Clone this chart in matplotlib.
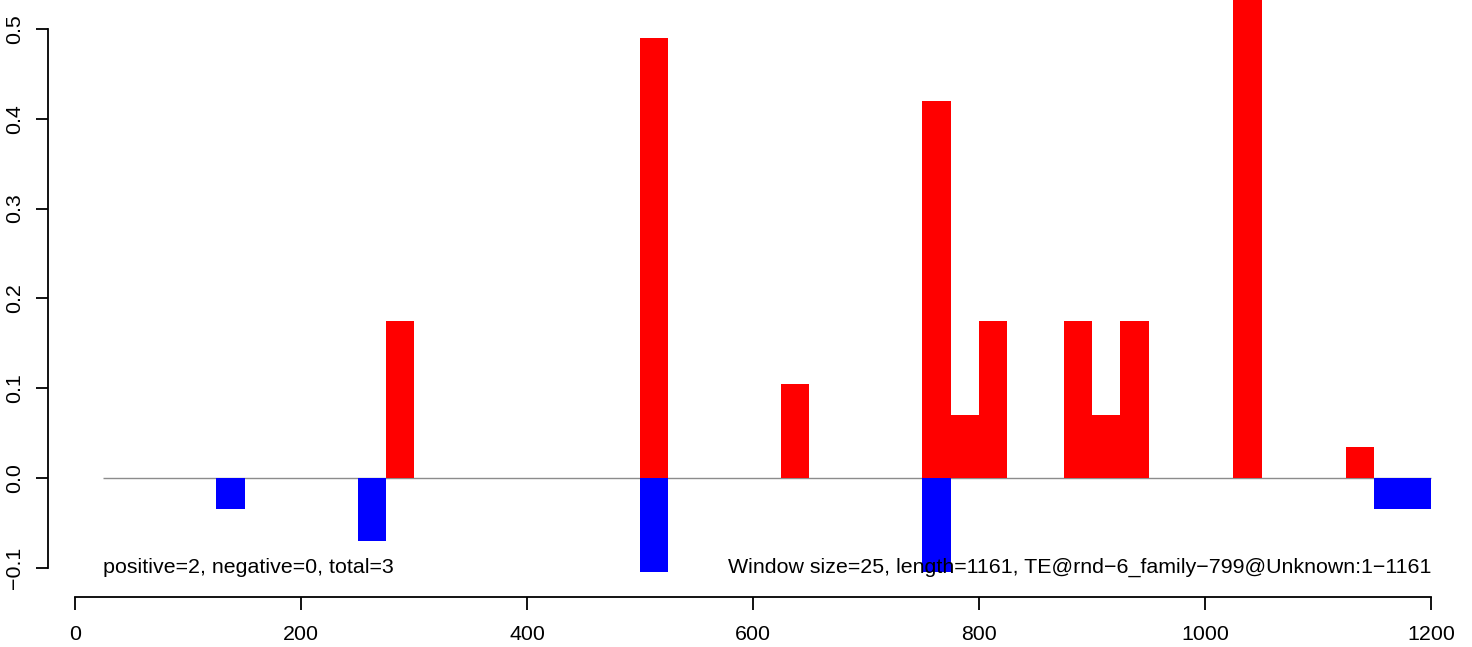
import matplotlib
matplotlib.use("Agg")
import matplotlib.pyplot as plt

# window starts (window size 25) and scores
pos_starts = [275, 500, 625, 750, 775, 800, 875, 900, 925, 1025, 1125]
pos_vals = [0.175, 0.49, 0.105, 0.42, 0.07, 0.175, 0.175, 0.07, 0.175, 0.56, 0.035]
neg_starts = [125, 250, 500, 750, 1150, 1175]
neg_vals = [-0.035, -0.07, -0.105, -0.105, -0.035, -0.035]
window = 25
seq_start, seq_end = 25, 1200

xticks = [0, 200, 400, 600, 800, 1000, 1200]
yticks = [-0.1, 0.0, 0.1, 0.2, 0.3, 0.4, 0.5]
left_note = "positive=2, negative=0, total=3"
right_note = "Window size=25, length=1161, TE@rnd\u22126_family\u2212799@Unknown:1\u22121161"

plt.rcParams['font.family'] = ['Liberation Sans', 'DejaVu Sans']
fs = 15.4

W, H = 1472, 647
fig = plt.figure(figsize=(W / 100, H / 100), dpi=100)
ax_l, ax_r, ax_t, ax_b = 48, 1460, 0, 597
ax = fig.add_axes([ax_l / W, 1 - ax_b / H, (ax_r - ax_l) / W, (ax_b - ax_t) / H])

# pixel scale of the reference
px_x = (1431 - 75) / 1200.0
px_y = 898.0
ax.set_xlim((ax_l - 75) / px_x, (ax_r - 75) / px_x)
ax.set_ylim((478 - ax_b) / px_y, (478 - ax_t) / px_y)

ax.hlines(0, seq_start, seq_end, color='#8c8c8c', lw=1.0, zorder=1)
ax.bar(pos_starts, pos_vals, width=window, align='edge', color='#ff0000', lw=0, zorder=2)
ax.bar(neg_starts, neg_vals, width=window, align='edge', color='#0000ff', lw=0, zorder=2)

ax.text(seq_start, -0.1, left_note, ha='left', va='center', fontsize=fs)
ax.text(seq_end, -0.1, right_note, ha='right', va='center', fontsize=fs)

for s in ['top', 'right']:
    ax.spines[s].set_visible(False)
ax.spines['left'].set_bounds(-0.1, 0.5)
ax.spines['bottom'].set_bounds(0, 1200)
for s in ['left', 'bottom']:
    ax.spines[s].set_linewidth(1.3)

ax.set_xticks(xticks)
ax.set_xticklabels([str(v) for v in xticks])
ax.set_yticks(yticks)
ax.set_yticklabels([f"{v:.1f}".replace('-', '\u2212') for v in yticks], rotation=90, va='center')
ax.tick_params(axis='both', length=9, width=1.3, labelsize=fs, direction='out')
ax.tick_params(axis='x', pad=11)
ax.tick_params(axis='y', pad=8)

fig.savefig("out.png", dpi=100, facecolor='white')
